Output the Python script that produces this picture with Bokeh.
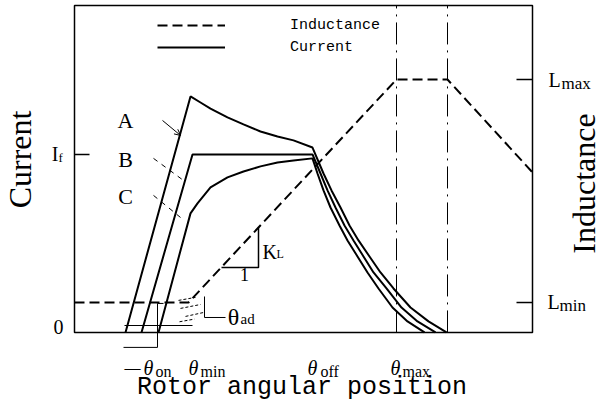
from math import pi

from bokeh.plotting import figure
from bokeh.models import Range1d, Label, Arrow, OpenHead, Legend, LegendItem
from bokeh.embed import file_html
from bokeh.resources import INLINE

# Rotor angle (deg) and phase current (per unit of the reference current I_f)
# for the three turn-on cases A, B and C.
theta_A = [5.1, 11.6, 12.6, 13.6, 15.3, 16.9, 18.6, 20.3, 21.9, 23.8,
           24.9, 25.7, 26.6, 27.5, 28.4, 29.5, 30.6, 31.9, 33.6, 35.4, 37.2]
i_A = [0.0, 1.326, 1.292, 1.258, 1.208, 1.169, 1.129, 1.101, 1.079, 1.039,
       0.893, 0.798, 0.702, 0.601, 0.517, 0.427, 0.337, 0.247, 0.140, 0.062, 0.0]

theta_B = [6.7, 11.8, 23.8, 24.6, 25.3, 26.1, 27.0, 27.9, 28.9, 29.9,
           31.2, 32.7, 34.3, 36.1]
i_B = [0.0, 1.0, 1.0, 0.893, 0.798, 0.702, 0.601, 0.517, 0.427, 0.337,
       0.247, 0.140, 0.062, 0.0]

theta_C = [8.4, 11.6, 12.3, 13.6, 15.3, 16.9, 18.6, 20.3, 21.9, 23.8,
           24.3, 24.9, 25.6, 26.5, 27.3, 28.3, 29.3, 30.4, 31.8, 33.3, 35.0]
i_C = [0.0, 0.669, 0.725, 0.815, 0.871, 0.904, 0.933, 0.955, 0.966, 0.978,
       0.893, 0.798, 0.702, 0.601, 0.517, 0.427, 0.337, 0.247, 0.140, 0.062, 0.0]

# Phase inductance profile (mH) against rotor angle
theta_L = [0.0, 11.4, 32.2, 37.3, 45.8]
ind_L = [10.0, 10.0, 70.0, 70.0, 45.0]
L_MIN, L_MAX = 10.0, 70.0
I_F = 1.0

# Characteristic angles (deg)
THETA_ON, THETA_MIN, THETA_OFF, THETA_MAX, THETA_ALIGN_END = 7.4, 11.9, 23.8, 32.2, 37.3

# Slope triangle for K_L on the rising inductance (deg, mH)
kl_theta = [14.7, 18.4, 18.4]
kl_L = [19.4, 19.4, 30.2]

# Extent of the drawing box (deg, per-unit current)
BOX_X0, BOX_X1 = 0.0, 45.8
BOX_Y0, BOX_Y1 = 0.0, 1.837

SERIF = "Liberation Serif"
MONO = "Liberation Mono"

# The frame fills the whole canvas so that the titles and angle marks
# around the box can be placed in data units.
p = figure(width=611, height=401, output_backend="svg", toolbar_location=None,
           x_range=Range1d(-7.4, 53.7), y_range=Range1d(-0.388, 1.865),
           x_axis_location=None, y_axis_location=None,
           min_border=0, min_border_left=0, min_border_right=0,
           min_border_top=0, min_border_bottom=0)
p.xgrid.visible = False
p.ygrid.visible = False
p.outline_line_color = None
p.background_fill_color = "white"
p.border_fill_color = "white"
p.extra_y_ranges = {"L": Range1d(-16.63, 91.25)}

# Drawing box
p.quad(left=BOX_X0, right=BOX_X1, bottom=BOX_Y0, top=BOX_Y1, fill_color=None,
       line_color="black", line_width=1.5)

# Inward tick for I_f and for L_min / L_max
p.segment(x0=[BOX_X0], y0=[I_F], x1=[BOX_X0 + 1.5], y1=[I_F],
          line_color="black", line_width=1.5)
p.segment(x0=[BOX_X1, BOX_X1], y0=[L_MIN, L_MAX], x1=[BOX_X1 - 1.6, BOX_X1 - 1.6],
          y1=[L_MIN, L_MAX], y_range_name="L", line_color="black", line_width=1.5)

# Vertical dash-dot markers at theta_max and the end of the aligned region
p.segment(x0=[THETA_MAX, THETA_ALIGN_END], y0=[BOX_Y0, BOX_Y0],
          x1=[THETA_MAX, THETA_ALIGN_END], y1=[BOX_Y1, BOX_Y1],
          line_color="black", line_width=1, line_dash="22 6 2 6")

# Inductance
r_ind = p.line(theta_L, ind_L, y_range_name="L", line_color="black",
               line_width=2, line_dash="10 5")

# Currents
r_A = p.line(theta_A, i_A, line_color="black", line_width=2)
r_B = p.line(theta_B, i_B, line_color="black", line_width=2)
r_C = p.line(theta_C, i_C, line_color="black", line_width=2)

# K_L slope triangle
p.line(kl_theta, kl_L, y_range_name="L", line_color="black", line_width=1.5)

# theta_ad bracket and the short marks near turn-on
p.line([13.0, 13.0, 15.1], [0.202, 0.084, 0.084], line_color="black", line_width=1)
p.line([5.0, 11.8], [0.039, 0.039], line_color="black", line_width=1.2)
for xs, ys in (([10.4, 12.1], [0.180, 0.197]), ([10.6, 12.6], [0.135, 0.157]),
               ([11.1, 12.9], [0.090, 0.112]), ([10.5, 12.0], [0.060, 0.075])):
    p.line(xs, ys, line_color="black", line_width=1, line_dash="3 2")
p.line([8.9, 8.3, 8.3, 4.9], [0.163, 0.163, -0.084, -0.084],
       line_color="black", line_width=1)

# Pointers for the A / B / C curve labels
p.add_layout(Arrow(end=OpenHead(size=6, line_width=1), x_start=8.8, y_start=1.191,
                   x_end=10.6, y_end=1.107, line_color="black", line_width=1))
p.line([7.9, 10.9], [0.978, 0.854], line_color="black", line_width=1, line_dash="5 5")
p.line([7.9, 10.6], [0.770, 0.646], line_color="black", line_width=1, line_dash="5 5")

legend = Legend(items=[LegendItem(label="Inductance", renderers=[r_ind]),
                       LegendItem(label="Current", renderers=[r_A])],
                location=(157, 344), glyph_width=68, glyph_height=20, label_standoff=65,
                spacing=2, padding=0, margin=0, border_line_color=None,
                background_fill_alpha=0, label_text_font=MONO,
                label_text_font_size="15px", label_text_color="black")
p.add_layout(legend)


def label(x, y, text, size, font=SERIF, style="normal", align="left",
          angle=0.0, y_range_name="default"):
    p.add_layout(Label(x=x, y=y, text=text, text_font=font, text_font_size=f"{size}px",
                       text_font_style=style, text_align=align, text_baseline="middle",
                       angle=angle, text_color="black", y_range_name=y_range_name))


# Axis titles
label(-5.5, 0.972, "Current", 32, align="center", angle=pi / 2)
label(50.9, 0.837, "Inductance", 32, align="center", angle=pi / 2)
label(22.75, -0.309, "Rotor angular position", 25, font=MONO, align="center")

# Current axis marks
label(-1.1, 0.028, "0", 20, align="right")
label(-1.6, 1.003, "I", 20, align="right")
label(-1.6, 0.983, "f", 13)

# Inductance axis marks
label(47.4, 69.86, "L", 20, y_range_name="L")
label(48.7, 69.05, "max", 17, y_range_name="L")
label(47.3, 10.13, "L", 20, y_range_name="L")
label(48.5, 9.33, "min", 17, y_range_name="L")

# Curve names
label(5.1, 1.191, "A", 22, align="center")
label(5.1, 0.969, "B", 22, align="center")
label(5.1, 0.761, "C", 22, align="center")

# Angle marks under the axis
label(5.8, -0.197, "\u2014", 16, align="center")
for pos, sub, sub_x in ((THETA_ON, "on", 8.1), (THETA_MIN, "min", 12.6),
                        (THETA_OFF, "off", 24.6), (THETA_MAX - 0.1, "max", 32.8)):
    label(pos, -0.202, "\u03b8", 20, style="italic", align="center")
    label(sub_x, -0.222, sub, 16)

# Advance angle and inductance slope
label(15.9, 0.084, "\u03b8", 24, align="center")
label(16.6, 0.073, "ad", 15)
label(18.8, 0.452, "K", 20)
label(20.2, 0.438, "L", 12)
label(17.0, 0.326, "1", 18, align="center")

open("out.html", "w").write(file_html(p, INLINE))
